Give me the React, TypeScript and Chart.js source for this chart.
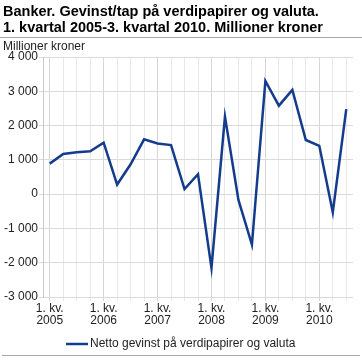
import React, { useEffect, useRef } from "react";
import { Chart, registerables } from "chart.js";
Chart.register(...registerables);

const TITLE_LINES = [
  "Banker. Gevinst/tap på verdipapirer og valuta.",
  "1. kvartal 2005-3. kvartal 2010. Millioner kroner",
];
const Y_TITLE = "Millioner kroner";
const SERIES_LABEL = "Netto gevinst på verdipapirer og valuta";

const categories = [
  "2005K1", "2005K2", "2005K3", "2005K4",
  "2006K1", "2006K2", "2006K3", "2006K4",
  "2007K1", "2007K2", "2007K3", "2007K4",
  "2008K1", "2008K2", "2008K3", "2008K4",
  "2009K1", "2009K2", "2009K3", "2009K4",
  "2010K1", "2010K2", "2010K3",
];
const values = [
  890, 1170, 1220, 1250,
  1500, 280, 870, 1600,
  1480, 1430, 150, 580,
  -2150, 2260, -170, -1470,
  3300, 2580, 3040, 1580,
  1410, -530, 2480,
];
const yMin = -3000;
const yMax = 4000;
const yStep = 1000;

const FONT = '"Liberation Sans", Arial, Helvetica, sans-serif';
const LINE_COLOR = "#143c8c";

function fmt(n: number): string {
  const s = Math.abs(n).toString().replace(/\B(?=(\d{3})+(?!\d))/g, " ");
  return (n < 0 ? "-" : "") + s;
}

function xLabel(cat: string): string | string[] {
  const year = cat.slice(0, 4);
  const q = cat.slice(5);
  return q === "1" ? ["1. kv.", year] : "";
}

const decorPlugin = {
  id: "decor",
  afterDraw(chart: any) {
    const ctx = chart.ctx as CanvasRenderingContext2D;
    const W = chart.width;
    ctx.save();
    ctx.fillStyle = "#000";
    ctx.textBaseline = "alphabetic";
    ctx.textAlign = "left";
    ctx.font = `bold 14.5px ${FONT}`;
    ctx.fillText(TITLE_LINES[0], 3, 16);
    ctx.fillText(TITLE_LINES[1], 3, 32);
    // separators
    ctx.strokeStyle = "#a8a8a8";
    ctx.lineWidth = 1;
    ctx.beginPath();
    ctx.moveTo(0, 37.5);
    ctx.lineTo(W, 37.5);
    ctx.stroke();
    ctx.beginPath();
    ctx.moveTo(2, 355.5);
    ctx.lineTo(W - 2, 355.5);
    ctx.stroke();
    // y title
    ctx.font = `12px ${FONT}`;
    ctx.fillStyle = "#222";
    ctx.fillText(Y_TITLE, 3, 49.5);
    // legend
    const ds = chart.data.datasets[0];
    const ly = 344;
    const lx = 66;
    ctx.strokeStyle = ds.borderColor;
    ctx.lineWidth = 2.5;
    ctx.beginPath();
    ctx.moveTo(lx, ly);
    ctx.lineTo(lx + 22, ly);
    ctx.stroke();
    ctx.fillStyle = "#222";
    ctx.textBaseline = "middle";
    ctx.fillText(ds.label, lx + 24, ly);
    ctx.restore();
  },
};

export default function App() {
  const ref = useRef<HTMLCanvasElement | null>(null);
  useEffect(() => {
    document.body.style.margin = "0";
    const canvas = ref.current!;
    const chart = new Chart(canvas, {
      type: "line",
      data: {
        labels: categories,
        datasets: [
          {
            label: SERIES_LABEL,
            data: values,
            borderColor: LINE_COLOR,
            backgroundColor: LINE_COLOR,
            borderWidth: 2.5,
            pointRadius: 0,
            pointHoverRadius: 0,
            tension: 0,
            fill: false,
          },
        ],
      },
      options: {
        responsive: false,
        animation: false,
        devicePixelRatio: 1,
        layout: { padding: { top: 57, left: 0, right: 9, bottom: 31 } },
        plugins: {
          legend: { display: false },
          title: { display: false },
          tooltip: { enabled: false },
        },
        scales: {
          x: {
            offset: true,
            grid: {
              offset: false,
              drawTicks: true,
              tickLength: 4,
              color: (c: any) => (c.index % 4 === 0 ? "#d6d6d6" : "#e8e8e8"),
            },
            border: { display: false },
            ticks: {
              autoSkip: false,
              maxRotation: 0,
              minRotation: 0,
              padding: 2,
              color: "#222",
              font: { family: FONT, size: 12, lineHeight: 1.0 },
              callback: (_v: any, i: number) => xLabel(categories[i]),
            },
            afterFit: (s: any) => {
              s.height = 32;
            },
          },
          y: {
            min: yMin,
            max: yMax,
            grid: {
              drawTicks: true,
              tickLength: 4,
              color: "#dadada",
            },
            border: { display: true, color: "#c8c8c8" },
            ticks: {
              stepSize: yStep,
              padding: 1,
              color: "#222",
              font: { family: FONT, size: 12 },
              callback: (v: any) => fmt(Number(v)),
            },
            afterFit: (s: any) => {
              s.width = 43;
            },
          },
        },
      },
      plugins: [decorPlugin],
    });
    return () => chart.destroy();
  }, []);
  return (
    <div style={{ width: 362, height: 360 }}>
      <canvas ref={ref} width={362} height={360} style={{ display: "block" }} />
    </div>
  );
}
